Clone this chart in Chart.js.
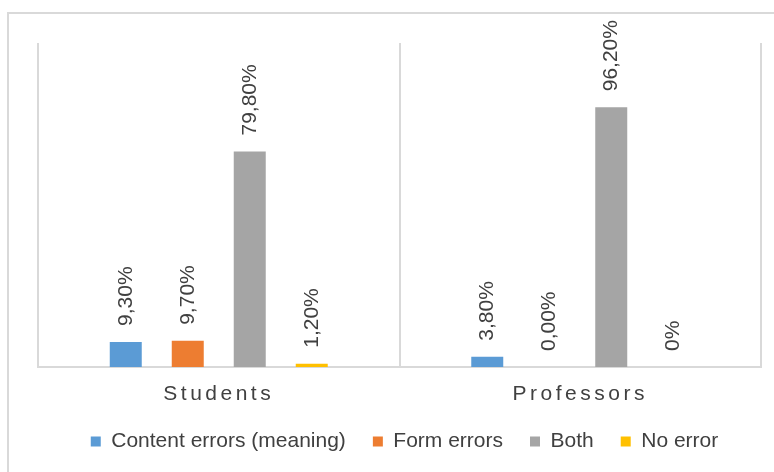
<!DOCTYPE html>
<html>
<head>
<meta charset="utf-8">
<script src="https://cdn.jsdelivr.net/npm/chart.js@4"></script>
<style>
  body { margin: 0; background: #fff; }
  #wrap { position: relative; width: 774px; height: 472px; overflow: hidden; }
  #frame { position: absolute; left: 7px; top: 12px; width: 800px; height: 500px; border: 2px solid #d9d9d9; }
  #box { position: absolute; left: 0; top: 0; width: 774px; height: 472px; }
</style>
</head>
<body>
<div id="wrap">
  <div id="frame"></div>
  <div id="box"><canvas id="errorsChart"></canvas></div>
</div>
<script>
// groups
const categories = ['Students', 'Professors'];

// series values (%)
const contentErrors = [9.3, 3.8];
const formErrors = [9.7, 0.0];
const bothErrors = [79.8, 96.2];
const noError = [1.2, 0];

// value labels as printed on the chart
const contentLabels = ['9,30%', '3,80%'];
const formLabels = ['9,70%', '0,00%'];
const bothLabels = ['79,80%', '96,20%'];
const noErrorLabels = ['1,20%', '0%'];

const seriesNames = ['Content errors (meaning)', 'Form errors', 'Both', 'No error'];
const seriesColors = ['#5B9BD5', '#ED7D31', '#A5A5A5', '#FFC000'];

const textColor = '#404040';
const lineColor = '#d9d9d9';
const fontFamily = '"Liberation Sans", Arial, sans-serif';

// rotated value labels above the bars
const valueLabels = {
    id: 'valueLabels',
    afterDatasetsDraw(chart) {
        const ctx = chart.ctx;
        chart.data.datasets.forEach((ds, i) => {
            const meta = chart.getDatasetMeta(i);
            meta.data.forEach((bar, j) => {
                ctx.save();
                ctx.translate(bar.x, bar.y - 16);
                ctx.rotate(-Math.PI / 2);
                ctx.font = '21px ' + fontFamily;
                ctx.fillStyle = textColor;
                ctx.textAlign = 'left';
                ctx.textBaseline = 'middle';
                ctx.fillText(ds.valueLabels[j], 0, 0);
                ctx.restore();
            });
        });
    }
};

// spaced-out category names, legend nudged a little right
const spacedTicks = {
    id: 'spacedTicks',
    afterLayout(chart) {
        chart.legend.left += 5;
        chart.legend.right += 5;
        const scale = chart.scales.x;
        if (scale._spaced) return;
        const orig = scale.drawLabels.bind(scale);
        scale.drawLabels = function (area) {
            chart.ctx.save();
            chart.ctx.letterSpacing = '3.5px';
            orig(area);
            chart.ctx.restore();
        };
        scale._spaced = true;
    }
};

function initChart() {
    const ctx = document.getElementById('errorsChart').getContext('2d');
    const allData = [contentErrors, formErrors, bothErrors, noError];
    const allLabels = [contentLabels, formLabels, bothLabels, noErrorLabels];

    new Chart(ctx, {
        type: 'bar',
        data: {
            labels: categories,
            datasets: seriesNames.map((name, i) => ({
                label: name,
                data: allData[i],
                valueLabels: allLabels[i],
                backgroundColor: seriesColors[i],
                borderWidth: 0,
                categoryPercentage: 0.686,
                barPercentage: 0.516
            }))
        },
        options: {
            responsive: true,
            maintainAspectRatio: false,
            animation: false,
            layout: {
                padding: { left: 38, right: 13, top: 43, bottom: 10 }
            },
            plugins: {
                legend: {
                    position: 'bottom',
                    labels: {
                        boxWidth: 10,
                        boxHeight: 10,
                        padding: 27,
                        color: textColor,
                        font: { family: fontFamily, size: 21 }
                    }
                },
                tooltip: { enabled: false }
            },
            scales: {
                x: {
                    grid: {
                        color: lineColor,
                        lineWidth: 2,
                        drawTicks: false
                    },
                    border: { color: lineColor, width: 2 },
                    ticks: {
                        color: textColor,
                        padding: 15,
                        font: { family: fontFamily, size: 21 }
                    },
                    afterFit(scale) {
                        scale.height = 37;
                    }
                },
                y: {
                    display: false,
                    min: 0,
                    max: 120
                }
            }
        },
        plugins: [valueLabels, spacedTicks]
    });
}

document.addEventListener('DOMContentLoaded', initChart);
</script>
</body>
</html>
